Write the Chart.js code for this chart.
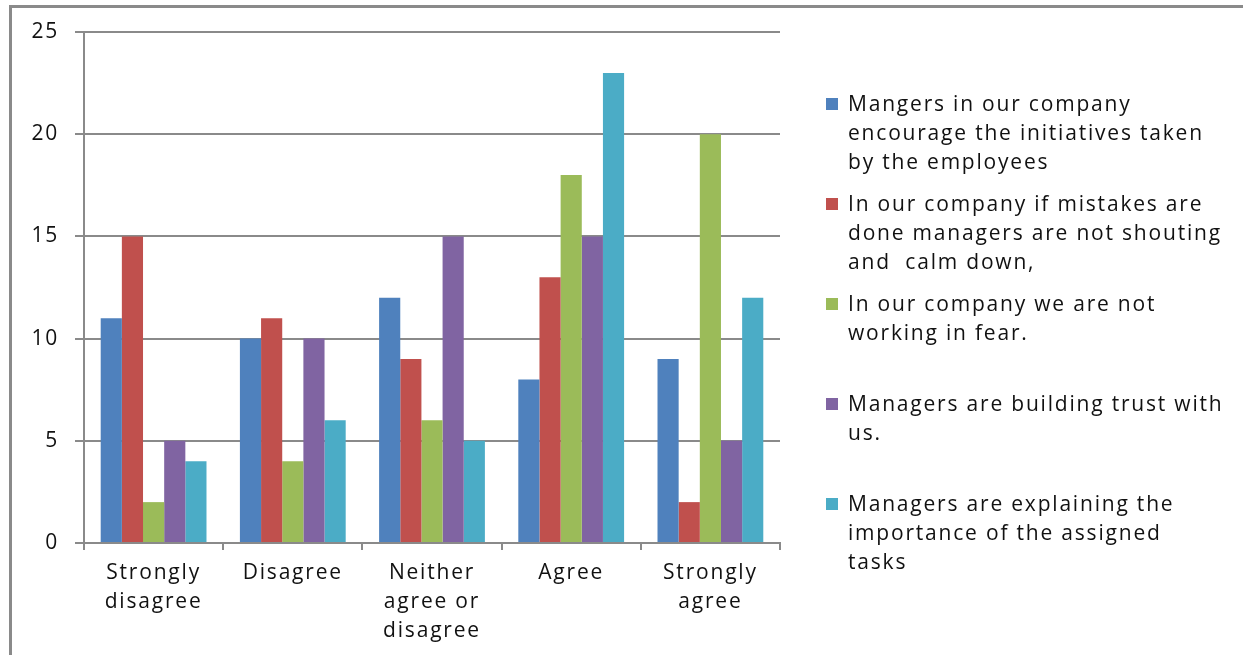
<!DOCTYPE html>
<html>
<head>
<meta charset="utf-8">
<script src="https://cdn.jsdelivr.net/npm/chart.js@4/dist/chart.umd.min.js"></script>
<style>
  body { margin: 0; background: #fff; width: 1243px; height: 655px; overflow: hidden; position: relative; }
  #frame { position: absolute; left: 9px; top: 5px; width: 1240px; height: 660px;
           border-left: 3px solid #8a8a8a; border-top: 3px solid #8a8a8a; }
  #wrap { position: absolute; left: 0; top: 0; width: 1243px; height: 655px; }
  #legend { position: absolute; left: 0; top: 0; font-family: "Open Sans", sans-serif;
            font-size: 21px; letter-spacing: 1.8px; color: #111; }
  .item { position: absolute; left: 826px; white-space: pre; }
  .sw { position: absolute; left: 0; top: 9px; width: 12px; height: 12px; }
  .txt { position: absolute; left: 22px; top: 0; line-height: 29px; white-space: pre; }
</style>
</head>
<body>
<div id="frame"></div>
<div id="wrap"><canvas id="chart" width="1243" height="655"></canvas></div>
<div id="legend"></div>
<script>
var categories = [["Strongly", "disagree"], "Disagree", ["Neither", "agree or", "disagree"], "Agree", ["Strongly", "agree"]];
var seriesNames = [
  ["Mangers in our company", "encourage the initiatives taken", "by the employees"],
  ["In our company if mistakes are", "done managers are not shouting", "and  calm down,"],
  ["In our company we are not", "working in fear."],
  ["Managers are building trust with", "us."],
  ["Managers are explaining the", "importance of the assigned", "tasks"]
];
var initiatives = [11, 10, 12, 8, 9];
var mistakes = [15, 11, 9, 13, 2];
var noFear = [2, 4, 6, 18, 20];
var trust = [5, 10, 15, 15, 5];
var explaining = [4, 6, 5, 23, 12];
var colors = ["#4F81BD", "#C0504D", "#9BBB59", "#8064A2", "#4BACC6"];
var yTicks = [0, 5, 10, 15, 20, 25];

var seriesValues = [initiatives, mistakes, noFear, trust, explaining];
var datasets = seriesValues.map(function (vals, i) {
  return {
    label: seriesNames[i].join(" "),
    data: vals,
    backgroundColor: colors[i],
    borderWidth: 0,
    categoryPercentage: 0.76,
    barPercentage: 1.0
  };
});

var tickFont = { family: "Open Sans", size: 21, lineHeight: 1.38 };

// wider letter spacing like the original rendering
var spacing = {
  id: 'spacing',
  beforeUpdate: function (c) { c.ctx.letterSpacing = '1.8px'; },
  beforeDraw: function (c) { c.ctx.letterSpacing = '1.8px'; }
};

new Chart(document.getElementById("chart"), {
  type: 'bar',
  data: { labels: categories, datasets: datasets },
  plugins: [spacing],
  options: {
    responsive: false,
    animation: false,
    layout: { padding: { left: 0, top: 32, right: 463, bottom: 0 } },
    plugins: { legend: { display: false }, tooltip: { enabled: false } },
    scales: {
      x: {
        offset: true,
        grid: { offset: true, drawOnChartArea: false, drawTicks: true, tickLength: 7,
                color: "#8a8a8a", lineWidth: 2 },
        border: { color: "#8a8a8a", width: 2 },
        ticks: { font: tickFont, color: "#111", padding: 9, maxRotation: 0, autoSkip: false },
        afterFit: function (s) { s.height = 112; }
      },
      y: {
        min: 0, max: 25,
        afterBuildTicks: function (s) { s.ticks = yTicks.map(function (v) { return { value: v }; }); },
        grid: { color: "#8a8a8a", lineWidth: 2, tickLength: 9 },
        border: { color: "#8a8a8a", width: 2 },
        ticks: { font: { family: "Open Sans", size: 21 }, color: "#111", padding: 16 },
        afterFit: function (s) { s.width = 84; }
      }
    }
  }
});

// legend built from the same series names and colours
var legend = document.getElementById("legend");
seriesNames.forEach(function (lines, i) {
  var item = document.createElement("div");
  item.className = "item";
  item.style.top = (89 + i * 100) + "px";
  var sw = document.createElement("div");
  sw.className = "sw";
  sw.style.background = colors[i];
  var txt = document.createElement("div");
  txt.className = "txt";
  txt.textContent = lines.join("\n");
  item.appendChild(sw);
  item.appendChild(txt);
  legend.appendChild(item);
});
</script>
</body>
</html>
